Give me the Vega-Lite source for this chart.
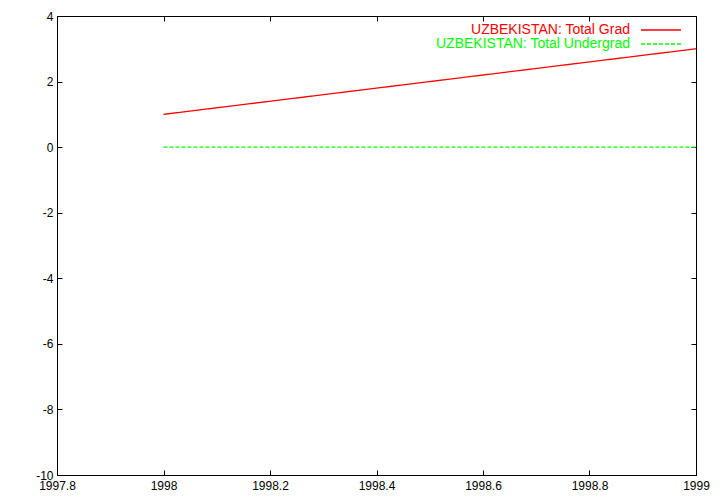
{
  "$schema": "https://vega.github.io/schema/vega-lite/v6.json",
  "autosize": {"type": "none"},
  "width": 639,
  "height": 459,
  "padding": {"left": 57, "top": 16, "right": 24, "bottom": 29},
  "background": "white",
  "config": {
    "view": {"stroke": "black", "strokeWidth": 1},
    "font": "Liberation Sans",
    "axis": {"grid": false, "domain": false, "tickColor": "black", "tickSize": -5, "labelColor": "black", "labelFontSize": 12, "labelFont": "Liberation Sans", "title": null},
    "legend": {"orient": "none", "legendX": 597, "legendY": 7, "title": null, "symbolType": "M-4,0H4", "symbolSize": 100, "symbolStrokeWidth": 1.3,
      "labelAlign": "right", "labelOffset": -38, "labelFontSize": 14, "labelFont": "Liberation Sans", "labelLimit": 400, "rowPadding": -1, "padding": 0}
  },
  "data": {"values": [
    {"year": 1998, "value": 1, "series": "UZBEKISTAN: Total Grad"},
    {"year": 1999, "value": 3, "series": "UZBEKISTAN: Total Grad"},
    {"year": 1998, "value": 0, "series": "UZBEKISTAN: Total Undergrad"},
    {"year": 1999, "value": 0, "series": "UZBEKISTAN: Total Undergrad"}
  ]},
  "layer": [
    {
      "mark": {"type": "line", "strokeWidth": 1.3, "clip": true},
      "encoding": {
        "x": {"field": "year", "type": "quantitative", "scale": {"domain": [1997.8, 1999], "nice": false, "zero": false},
              "axis": {"orient": "bottom", "values": [1997.8, 1998, 1998.2, 1998.4, 1998.6, 1998.8, 1999], "format": "~g", "labelPadding": 10, "labelFlush": false, "labelOverlap": false}},
        "y": {"field": "value", "type": "quantitative", "scale": {"domain": [-10, 4], "nice": false, "zero": false},
              "axis": {"orient": "left", "values": [-10, -8, -6, -4, -2, 0, 2, 4], "labelExpr": "toString(datum.value)", "labelPadding": 9, "labelOverlap": false}},
        "color": {"field": "series", "type": "nominal",
          "scale": {"domain": ["UZBEKISTAN: Total Grad", "UZBEKISTAN: Total Undergrad"], "range": ["#ff0000", "#00ff00"]},
          "legend": {"encode": {"labels": {"update": {"fill": {"scale": "color", "field": "value"}}}, "symbols": {"update": {"stroke": {"scale": "color", "field": "value"}}}}}},
        "strokeDash": {"field": "series", "type": "nominal",
          "scale": {"domain": ["UZBEKISTAN: Total Grad", "UZBEKISTAN: Total Undergrad"], "range": [[1, 0], [4, 2]]},
          "legend": {"encode": {"labels": {"update": {"fill": {"scale": "color", "field": "value"}}}, "symbols": {"update": {"stroke": {"scale": "color", "field": "value"}}}}}}
      }
    },
    {
      "mark": {"type": "line", "opacity": 0},
      "encoding": {
        "x": {"field": "year", "type": "quantitative", "scale": {"domain": [1997.8, 1999], "nice": false, "zero": false},
              "axis": {"orient": "top", "values": [1997.8, 1998, 1998.2, 1998.4, 1998.6, 1998.8, 1999], "labels": false}},
        "y": {"field": "value", "type": "quantitative", "scale": {"domain": [-10, 4], "nice": false, "zero": false},
              "axis": {"orient": "right", "values": [-10, -8, -6, -4, -2, 0, 2, 4], "labels": false}},
        "detail": {"field": "series", "type": "nominal"}
      }
    }
  ],
  "resolve": {"axis": {"x": "independent", "y": "independent"}}
}
